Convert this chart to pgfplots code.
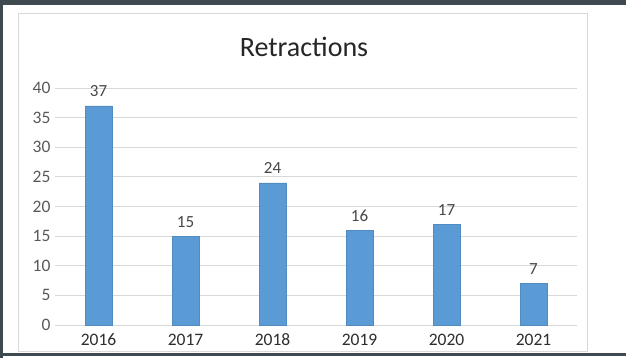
\documentclass[border=0pt]{standalone}
\usepackage{pgfplots}
\pgfplotsset{compat=1.18}
\usepackage{fontspec}
\setmainfont{Carlito}
\definecolor{barblue}{HTML}{5B9BD5}
\definecolor{gridgray}{HTML}{D9D9D9}
\definecolor{ticklab}{HTML}{595959}
\definecolor{darkband}{HTML}{3E4A4F}
\begin{document}
\begin{tikzpicture}[x=1pt,y=1pt]
% screenshot surroundings
\fill[darkband] (0,0) rectangle (626,358);
\fill[white] (3,5) rectangle (626,353);
\fill[white] (3,0) rectangle (626,2);
\draw[gridgray, line width=0.8pt] (18,7) rectangle (587,345);
\begin{axis}[
  at={(55pt,33pt)}, anchor=south west,
  scale only axis,
  width=522pt, height=237pt,
  xmin=-0.5, xmax=5.5,
  ymin=0, ymax=40,
  ytick={0,5,...,40},
  xtick={0,1,2,3,4,5},
  xticklabels={2016,2017,2018,2019,2020,2021},
  axis line style={draw=none},
  axis x line*=bottom,
  ymajorgrids,
  grid style={gridgray, line width=0.8pt},
  major tick length=0pt,
  tick style={draw=none},
  /pgf/number format/assume math mode=true,
  yticklabel style={font=\fontsize{17.5}{20}\selectfont, text=ticklab, xshift=-1pt},
  xticklabel style={font=\fontsize{17.5}{20}\selectfont, text=black!82, anchor=base, yshift=-21pt},
  nodes near coords,
  every node near coord/.append style={font=\fontsize{17}{20}\selectfont, text=black!72, anchor=base, yshift=9pt},
  title={Retractions},
  title style={font=\fontsize{28}{32}\selectfont, text=black!85, at={(0.477,1)}, anchor=base, yshift=25pt},
  clip=false,
]
\addplot[ybar, bar width=27pt, fill=barblue, draw=barblue!90!black] coordinates {
(0,37) (1,15) (2,24) (3,16) (4,17) (5,7)
};
\end{axis}
\end{tikzpicture}
\end{document}
